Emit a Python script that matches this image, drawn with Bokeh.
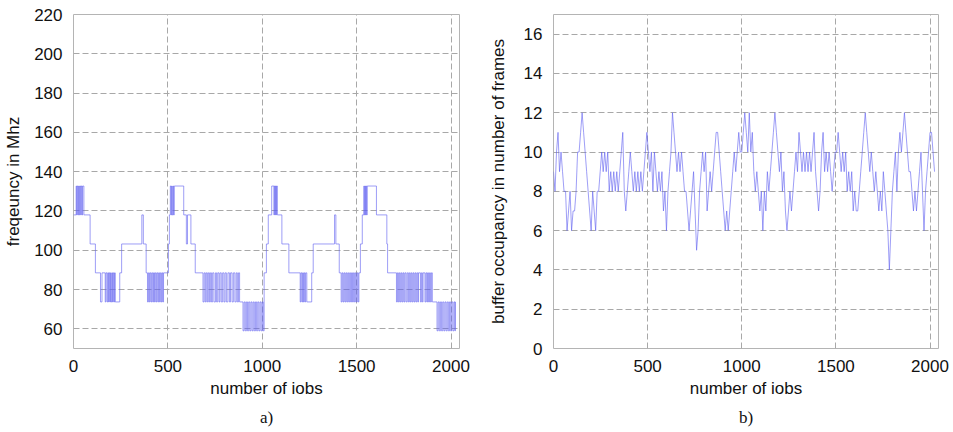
from bokeh.plotting import figure
from bokeh.layouts import row
from bokeh.models import Range1d, FixedTicker, Title
from bokeh.embed import file_html
from bokeh.resources import INLINE

# ---- panel a) : clock frequency (MHz) as step changes (job where level starts, MHz)
freq_steps = [
    (0, 118), (14, 132.7), (17, 118), (20, 132.7), (24, 118), (27, 132.7), (31, 118), (34, 132.7),
    (38, 118), (41, 132.7), (45, 118), (48, 132.7), (55, 118),
    (88, 103.2), (116, 88.5), (143, 73.7), (151, 88.5),
    (168, 73.7), (172, 88.5), (178, 73.7), (182, 88.5), (186, 73.7), (189, 88.5), (193, 73.7),
    (196, 88.5), (200, 73.7), (204, 88.5), (207, 73.7), (211, 88.5), (215, 73.7), (218, 88.5),
    (221, 73.7), (245, 88.5), (255, 103.2), (362, 118), (370, 103.2), (385, 88.5),
    (392, 73.7), (397, 88.5), (402, 73.7), (406, 88.5), (411, 73.7), (415, 88.5), (420, 73.7),
    (424, 88.5), (429, 73.7), (433, 88.5), (438, 73.7), (442, 88.5), (447, 73.7), (451, 88.5),
    (456, 73.7), (460, 88.5), (465, 73.7), (469, 88.5), (473, 73.7), (477, 88.5),
    (503, 103.2), (508, 118), (513, 132.7), (517, 118), (520, 132.7), (523, 118), (527, 132.7),
    (530, 118), (534, 132.7), (584, 118), (598, 103.2), (604, 118), (622, 103.2), (645, 88.5),
    (686, 73.7), (692, 88.5), (698, 73.7), (703, 88.5), (709, 73.7), (714, 88.5), (720, 73.7),
    (725, 88.5), (731, 73.7), (737, 88.5), (744, 73.7), (752, 88.5), (758, 73.7), (764, 88.5),
    (771, 73.7), (776, 88.5), (783, 73.7), (790, 88.5), (797, 73.7), (803, 88.5), (810, 73.7),
    (818, 88.5), (826, 73.7), (832, 88.5), (840, 73.7), (847, 88.5), (855, 73.7), (862, 88.5),
    (868, 73.7), (874, 88.5), (880, 73.7),
    (898, 59), (904, 73.7), (910, 59), (916, 73.7), (922, 59), (928, 73.7), (934, 59), (940, 73.7),
    (946, 59), (952, 73.7), (958, 59), (964, 73.7), (970, 59), (976, 73.7), (982, 59), (988, 73.7),
    (994, 59), (1000, 73.7), (1005, 59),
    (1010, 88.5), (1022, 103.2), (1032, 118), (1050, 132.7), (1062, 118), (1064, 132.7),
    (1068, 118), (1070, 132.7), (1074, 118), (1076, 132.7), (1080, 118),
    (1104, 103.2), (1141, 88.5),
    (1201, 73.7), (1205, 88.5), (1210, 73.7), (1214, 88.5), (1218, 73.7), (1222, 88.5),
    (1226, 73.7), (1230, 88.5), (1236, 73.7), (1262, 88.5), (1270, 103.2), (1383, 118),
    (1390, 103.2), (1408, 88.5),
    (1418, 73.7), (1423, 88.5), (1428, 73.7), (1433, 88.5), (1438, 73.7), (1443, 88.5),
    (1448, 73.7), (1453, 88.5), (1458, 73.7), (1463, 88.5), (1468, 73.7), (1473, 88.5),
    (1478, 73.7), (1483, 88.5), (1488, 73.7), (1493, 88.5), (1498, 73.7), (1503, 88.5),
    (1508, 73.7), (1512, 88.5),
    (1520, 103.2), (1530, 118), (1538, 132.7), (1541, 118), (1544, 132.7), (1547, 118),
    (1550, 132.7), (1553, 118), (1556, 132.7), (1605, 118), (1660, 103.2), (1664, 88.5),
    (1711, 73.7), (1716, 88.5), (1721, 73.7), (1726, 88.5), (1731, 73.7), (1736, 88.5),
    (1741, 73.7), (1746, 88.5), (1751, 73.7), (1756, 88.5), (1762, 73.7), (1768, 88.5),
    (1774, 73.7), (1779, 88.5), (1784, 73.7), (1789, 88.5), (1794, 73.7), (1799, 88.5),
    (1804, 73.7), (1809, 88.5), (1814, 73.7), (1819, 88.5), (1824, 73.7), (1828, 88.5),
    (1838, 73.7), (1843, 88.5), (1848, 73.7), (1852, 88.5), (1862, 73.7), (1867, 88.5),
    (1872, 73.7), (1876, 88.5), (1881, 73.7), (1886, 88.5), (1891, 73.7), (1896, 88.5),
    (1901, 73.7),
    (1926, 59), (1932, 73.7), (1938, 59), (1944, 73.7), (1950, 59), (1956, 73.7), (1962, 59),
    (1968, 73.7), (1974, 59), (1980, 73.7), (1986, 59), (1992, 73.7), (1998, 59), (2004, 73.7),
    (2010, 59), (2016, 73.7), (2021, 59), (2023, 73.7), (2024, 73.7),
]
jobs_a = [s[0] for s in freq_steps]
freq_a = [s[1] for s in freq_steps]

# ---- panel b) : buffer occupancy (frames), one reading every 8 jobs
buffer_b = [
    9, 8, 10, 11, 9, 10, 9, 8, 8, 6,
    7, 8, 6, 7, 7, 8, 10, 10, 11, 12,
    11, 10, 9, 8, 7, 6, 8, 7, 6, 8,
    8, 9, 10, 9, 10, 9, 10, 8, 9, 8,
    9, 8, 9, 8, 9, 10, 11, 8, 7, 8,
    9, 10, 9, 8, 9, 8, 9, 8, 9, 8,
    9, 10, 11, 10, 9, 10, 8, 10, 9, 8,
    9, 8, 9, 7, 8, 6, 8, 9, 10, 12,
    11, 10, 9, 10, 9, 10, 9, 8, 8, 7,
    6, 7, 8, 9, 7, 5, 6, 8, 9, 10,
    9, 10, 7, 8, 9, 8, 9, 10, 11, 11,
    10, 9, 8, 7, 6, 7, 6, 7, 8, 9,
    10, 9, 10, 11, 10, 10, 11, 12, 11, 10,
    12, 10, 11, 9, 8, 9, 8, 7, 8, 6,
    8, 7, 9, 8, 9, 10, 11, 12, 11, 10,
    9, 10, 8, 9, 7, 6, 7, 8, 7, 8,
    9, 10, 9, 11, 10, 9, 10, 9, 10, 9,
    10, 9, 10, 11, 9, 8, 7, 8, 10, 11,
    9, 10, 9, 10, 9, 8, 9, 10, 10, 11,
    10, 9, 10, 9, 10, 8, 9, 8, 9, 7,
    8, 7, 7, 8, 9, 10, 11, 12, 11, 10,
    9, 10, 9, 8, 9, 8, 7, 8, 7, 9,
    8, 7, 6, 4, 6, 8, 9, 10, 8, 10,
    11, 10, 11, 12, 11, 10, 9, 9, 8, 7,
    8, 7, 8, 9, 10, 8, 6, 8, 9, 10,
    11, 11, 10, 9,
]
jobs_b = [8 * i for i in range(len(buffer_b))]

x_ticks = [0, 500, 1000, 1500, 2000]
y_ticks_a = [60, 80, 100, 120, 140, 160, 180, 200, 220]
y_ticks_b = [0, 2, 4, 6, 8, 10, 12, 14, 16]

LINE = "#6464f0"
GRID = "#a8a8a8"
FONT = "Liberation Sans"


def style(p, yticks, ylabel, label_standoff, caption):
    p.xaxis.ticker = FixedTicker(ticks=x_ticks)
    p.yaxis.ticker = FixedTicker(ticks=yticks)
    for ax in (p.xaxis[0], p.yaxis[0]):
        ax.major_label_text_font = FONT
        ax.major_label_text_font_size = "17px"
        ax.major_label_text_color = "#111111"
        ax.axis_label_text_font = FONT
        ax.axis_label_text_font_size = "17px"
        ax.axis_label_text_font_style = "normal"
        ax.axis_label_text_color = "#111111"
        ax.axis_line_color = None
        ax.major_tick_line_color = None
        ax.minor_tick_line_color = None
        ax.major_label_standoff = 5
    p.xaxis.axis_label = "number of iobs"
    p.xaxis.axis_label_standoff = 4
    p.yaxis.axis_label = ylabel
    p.yaxis.axis_label_standoff = label_standoff
    p.xgrid.ticker = FixedTicker(ticks=x_ticks)
    p.ygrid.ticker = FixedTicker(ticks=yticks)
    for g in (p.xgrid[0], p.ygrid[0]):
        g.grid_line_color = GRID
        g.grid_line_dash = "6 3"
        g.grid_line_width = 1
    p.outline_line_color = "#b4b4b4"
    p.outline_line_width = 1
    p.add_layout(Title(text=caption, align="center", text_font="Liberation Serif",
                       text_font_size="17px", text_font_style="normal",
                       text_color="#111111", standoff=10), "below")


p1 = figure(width=480, height=432, output_backend="svg", toolbar_location=None, title=None,
            x_range=Range1d(0, 2045), y_range=Range1d(50, 220),
            min_border_left=73, min_border_right=21, min_border_top=14, min_border_bottom=84,
            background_fill_color="white", border_fill_color="white")
p1.step(jobs_a, freq_a, mode="after", line_color=LINE, line_width=0.7, line_alpha=0.9)
style(p1, y_ticks_a, "freqeuncy in Mhz", 8, "a)")

p2 = figure(width=473, height=432, output_backend="svg", toolbar_location=None, title=None,
            x_range=Range1d(0, 2045), y_range=Range1d(0, 17),
            min_border_left=73, min_border_right=15, min_border_top=14, min_border_bottom=84,
            background_fill_color="white", border_fill_color="white")
p2.line(jobs_b, buffer_b, line_color=LINE, line_width=0.7, line_alpha=0.9)
style(p2, y_ticks_b, "buffer occupancy in number of frames", 13, "b)")

layout = row(p1, p2)
open("out.html", "w").write(file_html(layout, INLINE))
